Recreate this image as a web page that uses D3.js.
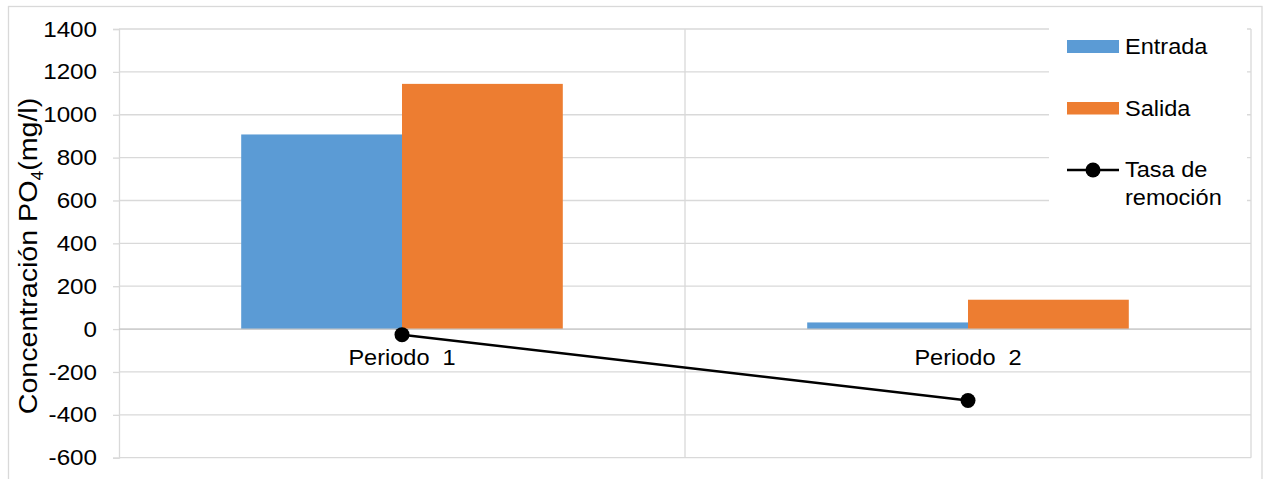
<!DOCTYPE html>
<html>
<head>
<meta charset="utf-8">
<script src="https://cdn.jsdelivr.net/npm/d3@7"></script>
<style>
  html, body { margin: 0; padding: 0; background: #fff; }
  text { font-family: "Liberation Sans", Arial, sans-serif; fill: #000; }
</style>
</head>
<body>
<svg id="chart" width="1267" height="479"></svg>
<script>
// Phosphate (PO4) concentration per period, with removal rate
const categories = ["Periodo  1", "Periodo  2"];
const entrada = [908, 31];
const salida = [1144, 137];
const tasaRemocion = [-26, -333];
const yTicks = [-600, -400, -200, 0, 200, 400, 600, 800, 1000, 1200, 1400];
const seriesNames = ["Entrada", "Salida", "Tasa de remoción"];

const margin = { left: 119, top: 29 };
const plotW = 1251 - margin.left;
const plotTop = 29, plotBottom = 457.7;

const svg = d3.select("#chart");
const colors = { entrada: "#5B9BD5", salida: "#ED7D31", line: "#000" };
const gridColor = "#d9d9d9";
const fontSize = 22;
const stretch = 1.1;

// outer chart border
svg.append("rect")
  .attr("x", 8.5).attr("y", 6.5)
  .attr("width", 1262 - 8.5).attr("height", 500)
  .attr("fill", "none").attr("stroke", gridColor).attr("stroke-width", 1.3);

const x = d3.scaleBand().domain(categories).range([margin.left, margin.left + plotW]);
const y = d3.scaleLinear().domain([-600, 1400]).range([plotBottom, plotTop]);

const inner = d3.scaleBand().domain(["entrada", "salida"])
  .range([0, x.bandwidth()]).paddingInner(0).paddingOuter(0.76);

// horizontal gridlines
svg.append("g").selectAll("line").data(yTicks).join("line")
  .attr("x1", margin.left).attr("x2", margin.left + plotW)
  .attr("y1", d => y(d)).attr("y2", d => y(d))
  .attr("stroke", gridColor).attr("stroke-width", 1.3);

// vertical gridlines between categories
const bounds = categories.map(c => x(c) + x.bandwidth());
svg.append("g").selectAll("line").data(bounds).join("line")
  .attr("x1", d => d).attr("x2", d => d)
  .attr("y1", plotTop).attr("y2", plotBottom)
  .attr("stroke", gridColor).attr("stroke-width", 1.3);

// y axis
const yAxis = d3.axisLeft(y).tickValues(yTicks).tickSize(6).tickPadding(14).tickFormat(d => String(d));
const gy = svg.append("g").attr("transform", `translate(${margin.left},0)`).call(yAxis);
gy.select(".domain").attr("stroke", gridColor).attr("stroke-width", 1.3);
gy.selectAll(".tick line").attr("stroke", gridColor).attr("stroke-width", 1.3);
gy.selectAll(".tick text")
  .attr("font-size", fontSize).attr("font-family", "Liberation Sans, Arial, sans-serif")
  .attr("fill", "#000")
  .attr("transform", `scale(${stretch},1)`);

// bars
const barData = [];
categories.forEach((c, i) => {
  barData.push({ cat: c, key: "entrada", v: entrada[i] });
  barData.push({ cat: c, key: "salida", v: salida[i] });
});
svg.append("g").selectAll("rect").data(barData).join("rect")
  .attr("x", d => x(d.cat) + inner(d.key))
  .attr("width", inner.bandwidth())
  .attr("y", d => y(Math.max(0, d.v)))
  .attr("height", d => Math.abs(y(d.v) - y(0)))
  .attr("fill", d => colors[d.key]);

// zero baseline
svg.append("line")
  .attr("x1", margin.left).attr("x2", margin.left + plotW)
  .attr("y1", y(0)).attr("y2", y(0))
  .attr("stroke", "#c8c8c8").attr("stroke-width", 1.3);

// category labels
svg.append("g").selectAll("text").data(categories).join("text")
  .attr("transform", d => `translate(${x(d) + x.bandwidth() / 2},${y(0) + 35.5}) scale(1.07,1)`)
  .attr("text-anchor", "middle")
  .attr("font-size", fontSize)
  .style("white-space", "pre")
  .text(d => d);

// removal-rate line
const linePts = categories.map((c, i) => ({ cx: x(c) + x.bandwidth() / 2, v: tasaRemocion[i] }));
svg.append("path")
  .attr("d", d3.line().x(d => d.cx).y(d => y(d.v))(linePts))
  .attr("fill", "none").attr("stroke", colors.line).attr("stroke-width", 2.5);
svg.append("g").selectAll("circle").data(linePts).join("circle")
  .attr("cx", d => d.cx).attr("cy", d => y(d.v)).attr("r", 7.5)
  .attr("fill", colors.line);

// y axis title
const title = svg.append("text")
  .attr("transform", `translate(37,256) rotate(-90) scale(${stretch},1)`)
  .attr("text-anchor", "middle")
  .attr("font-size", 26);
title.append("tspan").text("Concentración PO");
title.append("tspan").attr("font-size", 16).attr("dy", 6).text("4");
title.append("tspan").attr("dy", -6).text("(mg/l)");

// legend
const lg = svg.append("g");
lg.append("rect").attr("x", 1049).attr("y", 22).attr("width", 198).attr("height", 204).attr("fill", "#fff");
lg.append("rect").attr("x", 1067).attr("y", 40).attr("width", 52).attr("height", 13).attr("fill", colors.entrada);
lg.append("rect").attr("x", 1067).attr("y", 102).attr("width", 52).attr("height", 12.5).attr("fill", colors.salida);
lg.append("line").attr("x1", 1067).attr("x2", 1119).attr("y1", 170).attr("y2", 170)
  .attr("stroke", colors.line).attr("stroke-width", 2.5);
lg.append("circle").attr("cx", 1093).attr("cy", 170).attr("r", 7.5).attr("fill", colors.line);
const legendText = [
  { t: seriesNames[0], y: 53.5 },
  { t: seriesNames[1], y: 115.5 },
  { t: "Tasa de", y: 177 },
  { t: "remoción", y: 204.5 }
];
lg.selectAll("text.lt").data(legendText).join("text")
  .attr("class", "lt")
  .attr("transform", d => `translate(1125,${d.y}) scale(1.07,1)`)
  .attr("font-size", fontSize)
  .text(d => d.t);
</script>
</body>
</html>
